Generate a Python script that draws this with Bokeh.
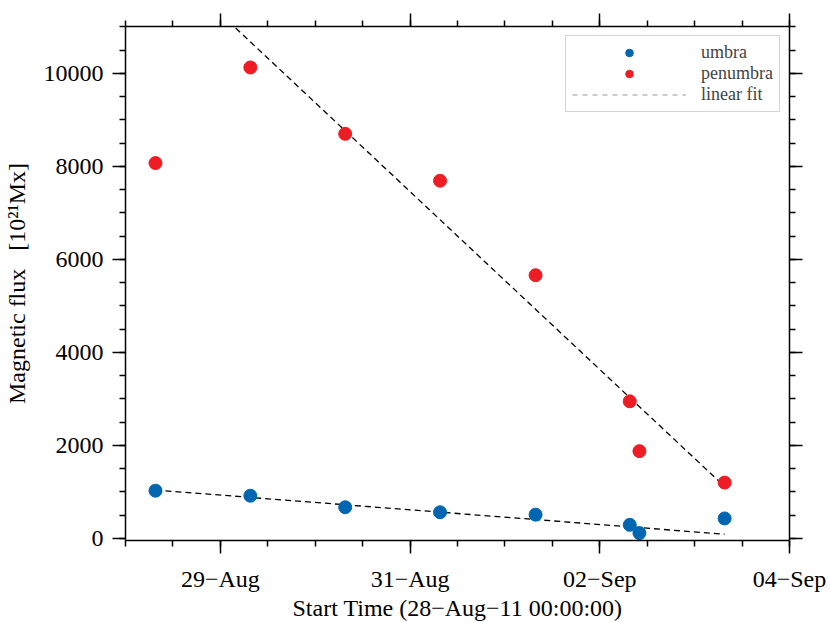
from bokeh.plotting import figure
from bokeh.models import Range1d, FixedTicker, LinearAxis, Legend, LegendItem
from bokeh.embed import file_html
from bokeh.resources import INLINE

# ---- data (days since 28-Aug-11 00:00:00) ----
obs_days = [0.316, 1.316, 2.316, 3.316, 4.323, 5.316, 5.418, 6.316]
umbra_flux = [1026, 918, 670, 562, 511, 292, 114, 429]
penumbra_flux = [8073, 10129, 8702, 7693, 5661, 2949, 1877, 1200]

fit_days = [0.316, 6.316]
umbra_fit = [1040, 90]
penumbra_fit = [12594, 1115]

x_major = [1, 3, 5, 7]
x_labels = ["29\u2212Aug", "31\u2212Aug", "02\u2212Sep", "04\u2212Sep"]
x_minor = [0.5 * i for i in range(15)]
y_major = [0, 2000, 4000, 6000, 8000, 10000]
y_labels = ["0", "2000", "4000", "6000", "8000", "10000"]
y_minor = list(range(0, 11001, 500))

FONT = "Liberation Serif"
BLUE = "#0066B2"
RED = "#EE1D25"

p = figure(width=830, height=623, x_range=Range1d(0, 7), y_range=Range1d(-45, 11010),
           output_backend="svg", toolbar_location=None,
           min_border_left=125, min_border_right=41, min_border_top=26, min_border_bottom=82)
p.grid.visible = False
p.outline_line_color = None
p.background_fill_color = "white"
p.border_fill_color = "white"


def style_axis(ax, labels=True):
    ax.axis_line_color = "black"
    ax.axis_line_width = 1.5
    ax.major_tick_line_color = "black"
    ax.major_tick_line_width = 1.5
    ax.minor_tick_line_color = "black"
    ax.minor_tick_line_width = 1.5
    ax.major_tick_out = 13
    ax.major_tick_in = 0
    ax.minor_tick_out = 6
    ax.minor_tick_in = 0
    ax.major_label_text_font = FONT
    ax.major_label_text_color = "black"
    ax.axis_label_text_font = FONT
    ax.axis_label_text_font_style = "normal"
    ax.axis_label_text_font_size = "24px"
    ax.axis_label_text_color = "black"
    if labels:
        ax.major_label_text_font_size = "24px"
    else:
        ax.major_label_text_font_size = "1px"
        ax.major_label_text_color = None
        ax.major_label_standoff = 0


xt = FixedTicker(ticks=x_major, minor_ticks=x_minor)
yt = FixedTicker(ticks=y_major, minor_ticks=y_minor)

xa = p.xaxis[0]
xa.ticker = xt
xa.major_label_overrides = {t: l for t, l in zip(x_major, x_labels)}
style_axis(xa)
xa.major_label_standoff = 12
xa.axis_label = "Start Time (28\u2212Aug\u221211 00:00:00)"
xa.axis_label_standoff = 0

ya = p.yaxis[0]
ya.ticker = yt
ya.major_label_overrides = {t: l for t, l in zip(y_major, y_labels)}
style_axis(ya)
ya.major_label_standoff = 9
ya.axis_label = "Magnetic flux\u00a0\u00a0\u00a0[10\u00b2\u00b9Mx]"
ya.axis_label_standoff = 11

top = LinearAxis(ticker=xt)
style_axis(top, labels=False)
p.add_layout(top, "above")
right = LinearAxis(ticker=yt)
style_axis(right, labels=False)
p.add_layout(right, "right")

# fits
p.line(fit_days, umbra_fit, line_color="black", line_width=1.3, line_dash="6 4")
p.line(fit_days, penumbra_fit, line_color="black", line_width=1.3, line_dash="6 4")

r_u = p.scatter(obs_days, umbra_flux, size=13, fill_color=BLUE, line_color=BLUE)
r_p = p.scatter(obs_days, penumbra_flux, size=13, fill_color=RED, line_color=RED)
# hidden grey copy of the fit, used only for the legend swatch
r_fit_leg = p.line(fit_days, umbra_fit, line_color="#999999", line_width=1.2, line_dash="5 5",
                   visible=False)

legend = Legend(items=[LegendItem(label="umbra", renderers=[r_u]),
                       LegendItem(label="penumbra", renderers=[r_p]),
                       LegendItem(label="linear fit", renderers=[r_fit_leg])],
                location="top_right", margin=9, padding=6, spacing=0,
                glyph_width=114, glyph_height=19, label_height=19, label_standoff=15,
                label_text_font=FONT, label_text_font_size="18px",
                border_line_color="#aaaaaa", border_line_width=1,
                background_fill_color="white", background_fill_alpha=1)
p.add_layout(legend)

open("out.html", "w").write(file_html(p, INLINE))
